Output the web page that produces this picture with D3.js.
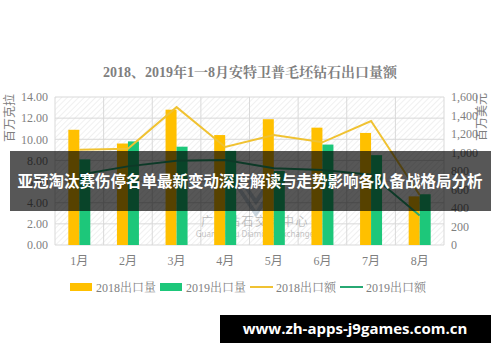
<!DOCTYPE html>
<meta charset="utf-8">
<style>
  body { margin: 0; background: #fff; }
  svg text { font-family: "Liberation Serif", "Noto Serif CJK SC", "Noto Sans CJK SC", serif; }
</style>
<body>
<div id="chart"></div>
<script src="https://d3js.org/d3.v7.min.js"></script>
<script>

var months = ["1月", "2月", "3月", "4月", "5月", "6月", "7月", "8月"];
var qty2018 = [10.9, 9.6, 12.8, 10.4, 11.9, 11.1, 10.6, 4.6];
var qty2019 = [8.1, 9.8, 9.3, 8.9, 7.0, 9.5, 8.5, 4.8];
var amt2018 = [1030, 1040, 1490, 1060, 1190, 1110, 1340, 540];
var amt2019 = [760, 850, 910, 920, 830, 810, 760, 320];
var leftTicks = [0, 2, 4, 6, 8, 10, 12, 14];
var rightTicks = [0, 200, 400, 600, 800, 1000, 1200, 1400, 1600];

var W = 500, H = 362;
var plot = {left: 55, right: 444, top: 97, bottom: 245};

var svg = d3.select("#chart").append("svg")
  .attr("width", W).attr("height", H);

var defs = svg.append("defs");
var pat = defs.append("pattern")
  .attr("id", "hatch")
  .attr("patternUnits", "userSpaceOnUse")
  .attr("width", 4).attr("height", 4)
  .attr("patternTransform", "rotate(45)");
pat.append("rect").attr("width", 4).attr("height", 4).attr("fill", "#fff");
pat.append("line").attr("x1", 0).attr("y1", 0).attr("x2", 0).attr("y2", 4)
  .attr("stroke", "#e6e6e6").attr("stroke-width", 1.2);

var x = d3.scaleBand().domain(months).range([plot.left, plot.right]);
var yL = d3.scaleLinear().domain([0, 14]).range([plot.bottom, plot.top]);
var yR = d3.scaleLinear().domain([0, 1600]).range([plot.bottom, plot.top]);

// title
svg.append("text")
  .attr("x", 250).attr("y", 77)
  .attr("text-anchor", "middle")
  .attr("font-size", 14).attr("font-weight", "bold")
  .attr("fill", "#7f7f7f")
  .text("2018、2019年1一8月安特卫普毛坯钻石出口量额");

// plot background
svg.append("rect")
  .attr("x", plot.left).attr("y", plot.top)
  .attr("width", plot.right - plot.left).attr("height", plot.bottom - plot.top)
  .attr("fill", "url(#hatch)");

// grid
svg.append("g").selectAll("line").data(leftTicks).join("line")
  .attr("x1", plot.left).attr("x2", plot.right)
  .attr("y1", d => yL(d)).attr("y2", d => yL(d))
  .attr("stroke", "#d9d9d9");
svg.append("g").selectAll("line").data(months.concat(["end"])).join("line")
  .attr("x1", (d, i) => plot.left + i * x.bandwidth())
  .attr("x2", (d, i) => plot.left + i * x.bandwidth())
  .attr("y1", plot.top).attr("y2", plot.bottom)
  .attr("stroke", "#d9d9d9");

// watermark
var wm = svg.append("g").attr("opacity", 0.35);
wm.append("path")
  .attr("d", "M232,178 L256,214 L280,178 M244,184 L256,202 L268,184")
  .attr("fill", "none").attr("stroke", "#6d8fa8").attr("stroke-width", 4);
wm.append("text").attr("x", 255).attr("y", 226).attr("text-anchor", "middle")
  .attr("font-size", 12).attr("fill", "#555")
  .style("font-family", "Noto Sans CJK SC")
  .attr("letter-spacing", 1.5)
  .text("广州钻石交易中心");
wm.append("text").attr("x", 255).attr("y", 237).attr("text-anchor", "middle")
  .attr("font-size", 8).attr("fill", "#555")
  .style("font-family", "Noto Sans")
  .text("Guangzhou Diamond Exchange");

// bars
var bw = 11;
var bars = svg.append("g");
bars.selectAll(".b18").data(qty2018).join("rect")
  .attr("x", (d, i) => x(months[i]) + x.bandwidth() / 2 - bw)
  .attr("y", d => yL(d))
  .attr("width", bw)
  .attr("height", d => yL(0) - yL(d))
  .attr("fill", "#ffc000");
bars.selectAll(".b19").data(qty2019).join("rect")
  .attr("x", (d, i) => x(months[i]) + x.bandwidth() / 2)
  .attr("y", d => yL(d))
  .attr("width", bw)
  .attr("height", d => yL(0) - yL(d))
  .attr("fill", "#1dc77a");

// lines
var line = d3.line()
  .x((d, i) => x(months[i]) + x.bandwidth() / 2)
  .y(d => yR(d));
svg.append("path").datum(amt2018).attr("d", line)
  .attr("fill", "none").attr("stroke", "#f0c232").attr("stroke-width", 2);
svg.append("path").datum(amt2019).attr("d", line)
  .attr("fill", "none").attr("stroke", "#27a873").attr("stroke-width", 2);

// axes
var axL = svg.append("g")
  .attr("transform", "translate(" + (plot.left - 4) + ",0)")
  .call(d3.axisLeft(yL).tickValues(leftTicks).tickSize(0).tickFormat(d3.format(".2f")));
var axR = svg.append("g")
  .attr("transform", "translate(" + (plot.right + 4) + ",0)")
  .call(d3.axisRight(yR).tickValues(rightTicks).tickSize(0).tickFormat(d3.format(",")));
var axB = svg.append("g")
  .attr("transform", "translate(0," + (plot.bottom + 4) + ")")
  .call(d3.axisBottom(x).tickSize(0));
[axL, axR, axB].forEach(function (a) {
  a.select(".domain").remove();
  a.selectAll("text").attr("fill", "#7f7f7f").attr("font-size", 12)
    .style("font-family", "Liberation Serif, Noto Sans CJK SC, serif");
});
axB.selectAll("text").attr("dy", "1.1em");

// axis titles
svg.append("text")
  .attr("transform", "translate(14,118) rotate(-90)")
  .attr("text-anchor", "middle").attr("font-size", 12).attr("fill", "#7f7f7f")
  .style("font-family", "Noto Sans CJK SC")
  .text("百万克拉");
svg.append("text")
  .attr("transform", "translate(486,117) rotate(-90)")
  .attr("text-anchor", "middle").attr("font-size", 12).attr("fill", "#7f7f7f")
  .style("font-family", "Noto Sans CJK SC")
  .text("百万美元");

// legend
var legend = [
  {name: "2018出口量", type: "bar", color: "#ffc000", x: 70},
  {name: "2019出口量", type: "bar", color: "#1dc77a", x: 160},
  {name: "2018出口额", type: "line", color: "#f0c232", x: 250},
  {name: "2019出口额", type: "line", color: "#27a873", x: 340}
];
var lg = svg.append("g").selectAll("g").data(legend).join("g")
  .attr("transform", d => "translate(" + d.x + ",287)");
lg.filter(d => d.type === "bar").append("rect")
  .attr("x", 0).attr("y", -4).attr("width", 22).attr("height", 8)
  .attr("fill", d => d.color);
lg.filter(d => d.type === "line").append("line")
  .attr("x1", 0).attr("x2", 23).attr("y1", 0).attr("y2", 0)
  .attr("stroke", d => d.color).attr("stroke-width", 2);
lg.append("text")
  .attr("x", 26).attr("y", 4.5)
  .attr("font-size", 12).attr("fill", "#7f7f7f")
  .text(d => d.name);

// overlay banner
svg.append("rect")
  .attr("x", 10).attr("y", 151).attr("width", 481).attr("height", 60)
  .attr("fill", "#000").attr("opacity", 0.66);
svg.append("text")
  .attr("x", 250).attr("y", 187)
  .attr("text-anchor", "middle")
  .attr("font-size", 15.5).attr("font-weight", "bold").attr("fill", "#fff")
  .style("font-family", "Noto Sans CJK SC")
  .text("亚冠淘汰赛伤停名单最新变动深度解读与走势影响各队备战格局分析");

// bottom url box
svg.append("rect")
  .attr("x", 220).attr("y", 315).attr("width", 271).attr("height", 28)
  .attr("fill", "#000");
svg.append("text")
  .attr("x", 355).attr("y", 334)
  .attr("text-anchor", "middle")
  .attr("font-size", 15).attr("font-weight", "bold").attr("fill", "#fff")
  .style("font-family", "Open Sans, DejaVu Sans, sans-serif")
  .text("www.zh-apps-j9games.com.cn");

</script>
</body>
